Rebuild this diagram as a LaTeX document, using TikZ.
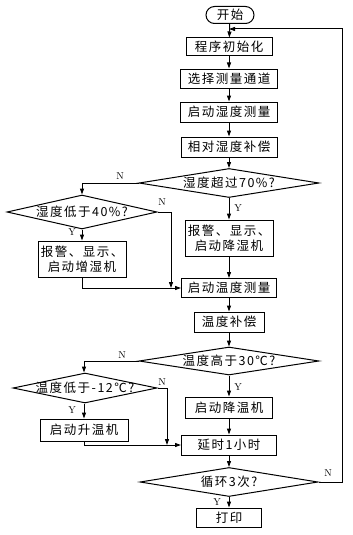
\documentclass[tikz,border=0pt]{standalone}
\usepackage{fontspec}
\newfontfamily\cjk[LetterSpace=12]{Noto Sans CJK SC}
\usetikzlibrary{shapes.geometric, shapes.misc, arrows.meta, positioning}
\tikzset{
  proc/.style={shape=rectangle, draw, line width=1pt, inner sep=0pt, align=center, font=\cjk\fontsize{12.5}{15}\selectfont},
  dec/.style={shape=diamond, draw, line width=1pt, inner ysep=0pt, inner xsep=-15pt, aspect=5, font=\cjk\fontsize{12.5}{15}\selectfont},
  term/.style={shape=rounded rectangle, draw, line width=1pt, inner sep=0pt, font=\cjk\fontsize{12.5}{15}\selectfont},
  lbl/.style={inner sep=0pt, font=\fontsize{10}{10}\selectfont},
  arr/.style={-{Triangle[length=6pt,width=4pt]}, line width=1pt}
}
\begin{document}
\begin{tikzpicture}[x=1pt, y=-1pt]
		\useasboundingbox (0,0) rectangle (353,535);
		
		% humidity part
		\node[term, minimum width=48, minimum height=17] (start) at (230,15) {开始};
		\node[proc, minimum width=86, minimum height=18] (init) at (229,47) {程序初始化};
		\node[proc, minimum width=97, minimum height=19] (chan) at (229,78.5) {选择测量通道};
		\node[proc, minimum width=97, minimum height=20] (hmeas) at (229,112) {启动湿度测量};
		\node[proc, minimum width=96, minimum height=20] (hcomp) at (229,147) {相对湿度补偿};
		\node[dec, minimum width=180, minimum height=29] (hhigh) at (229,183) {湿度超过70\%?};
		\node[dec, minimum width=150, minimum height=34] (hlow) at (82,212) {湿度低于40\%?};
		\node[proc, minimum width=88, minimum height=36] (hup) at (82,259) {报警、显示、\\启动增湿机};
		\node[proc, minimum width=88, minimum height=36] (hdown) at (229,238) {报警、显示、\\启动降湿机};
		\coordinate (j1) at (171,288);
		\draw[arr] (start) -- (init);
		\draw[arr] (init) -- (chan);
		\draw[arr] (chan) -- (hmeas);
		\draw[arr] (hmeas) -- (hcomp);
		\draw[arr] (hcomp) -- (hhigh);
		\draw[arr] (hhigh) -- (hdown);
		\draw[arr] (hhigh.west) -| (hlow.north);
		\draw[arr] (hlow) -- (hup);
		\draw[arr] (hlow.east) -| (j1);
		
		% temperature part
		\node[proc, minimum width=95, minimum height=19] (tmeas) at (229,288) {启动温度测量};
		\node[proc, minimum width=70, minimum height=20] (tcomp) at (229,322) {温度补偿};
		\node[dec, minimum width=180, minimum height=28] (thigh) at (229,361) {温度高于30℃?};
		\node[dec, minimum width=144, minimum height=30] (tlow) at (85,388) {温度低于-12℃?};
		\node[proc, minimum width=88, minimum height=22] (tup) at (84,430) {启动升温机};
		\node[proc, minimum width=87, minimum height=21] (tdown) at (229,407.5) {启动降温机};
		\node[proc, minimum width=95, minimum height=20] (wait) at (229,445) {延时1小时};
		\node[dec, minimum width=178, minimum height=29] (loop) at (229,482) {循环3次?};
		\node[proc, minimum width=65, minimum height=19] (print) at (229,517.5) {打印};
		\coordinate (j2) at (167,445);
		\coordinate (back) at (229,29);
		\coordinate (rt) at (342,29);
		\draw[arr] (hdown) -- (tmeas);
		\draw[arr] (hup.south) |- (tmeas.west);
		\draw[arr] (tmeas) -- (tcomp);
		\draw[arr] (tcomp) -- (thigh);
		\draw[arr] (thigh) -- (tdown);
		\draw[arr] (thigh.west) -| (tup.north |- tlow.north);
		\draw[arr] (tlow.south -| tup.north) -- (tup);
		\draw[arr] (tlow.east) -| (j2);
		\draw[arr] (tup.south) |- (wait.west);
		\draw[arr] (tdown) -- (wait);
		\draw[arr] (wait) -- (loop);
		\draw[arr] (loop) -- (print);
		\draw[arr] (loop.east) -| (rt) -- (back);
		
		% labels
		\node[lbl] (n1) at (120,176) {N};
		\node[lbl] (n2) at (162,202) {N};
		\node[lbl] (y1) at (72,232) {Y};
		\node[lbl] (y2) at (238,208) {Y};
		\node[lbl] (n3) at (122,355) {N};
		\node[lbl] (n4) at (162,382) {N};
		\node[lbl] (y3) at (72,410) {Y};
		\node[lbl] (y4) at (238,387) {Y};
		\node[lbl] (n5) at (328,473) {N};
		\node[lbl] (y5) at (217,502) {Y};
	\end{tikzpicture}
\end{document}
